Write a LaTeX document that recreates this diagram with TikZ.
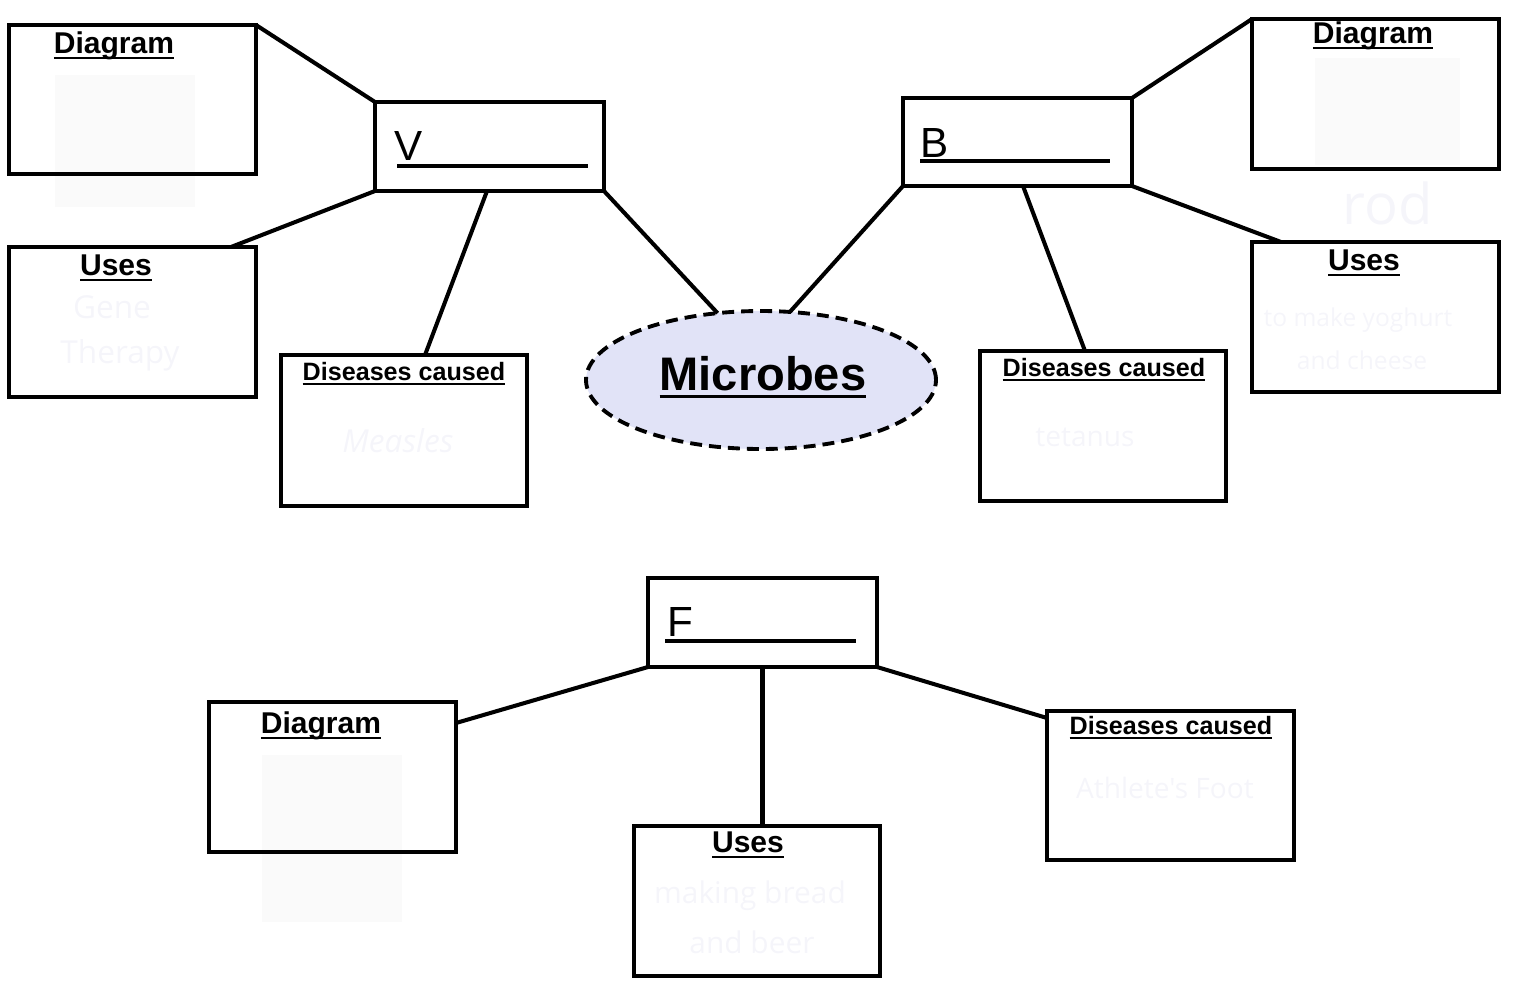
\documentclass[tikz,border=0pt]{standalone}
\usepackage{fontspec}
\setmainfont{Liberation Sans}
\newfontfamily\faintfont{Open Sans}
\usetikzlibrary{shapes.geometric,calc}
\newcommand\ulx[3]{% #1 gap below baseline, #2 thickness, #3 text
  \setbox0=\hbox{#3}%
  \rlap{\vrule width\wd0 height -#1 depth \dimexpr#1+#2\relax}\box0}
\definecolor{micfill}{RGB}{225,227,247}
\definecolor{faint}{RGB}{245,245,250}
\definecolor{imgbg}{RGB}{250,250,250}
\tikzset{
  box/.style={draw,line width=2.3pt,rectangle,inner sep=0pt,outer sep=0pt},
  bsz/.style 2 args={minimum width=#1*0.02cm,minimum height=#2*0.02cm},
  conn/.style={line width=2.3pt},
  head/.style={anchor=base,inner sep=0pt,font=\bfseries\fontsize{17.1}{19}\selectfont},
  dhead/.style={head,font=\bfseries\fontsize{14.3}{16}\selectfont},
  letter/.style={anchor=base west,inner sep=0pt,font=\fontsize{24}{28}\selectfont},
  blank/.style={line width=2.5pt},
  faintt/.style={text=faint,inner sep=0pt,font=\faintfont\fontsize{18}{21}\selectfont},
  imgsq/.style={fill=imgbg,draw=none},
}
\begin{document}
\begin{tikzpicture}[x=0.02cm,y=-0.02cm]
\useasboundingbox (0,0) rectangle (1515,1005);
% faint picture placeholders
\fill[imgsq] (55,75) rectangle (195,207);
\fill[imgsq] (1315,58) rectangle (1460,165);
\fill[imgsq] (262,755) rectangle (402,922);
% boxes
\node[box,bsz={247}{149}] (vd) at (132.5,99.5) {};
\node[box,bsz={229}{89}] (vm) at (489.5,146.5) {};
\node[box,bsz={247}{150}] (vu) at (132.5,322) {};
\node[box,bsz={246}{151}] (vdis) at (404,430.5) {};
\node[box,bsz={229}{88}] (bm) at (1017.5,142) {};
\node[box,bsz={247}{150}] (bd) at (1375.5,94) {};
\node[box,bsz={247}{150}] (bu) at (1375.5,317) {};
\node[box,bsz={246}{150}] (bdis) at (1103,426) {};
\node[box,bsz={229}{89}] (fm) at (762.5,622.5) {};
\node[box,bsz={247}{150}] (fd) at (332.5,777) {};
\node[box,bsz={246}{150}] (fu) at (757,901) {};
\node[box,bsz={247}{149}] (fdis) at (1170.5,785.5) {};
\node[ellipse,draw,fill=micfill,line width=2.2pt,dash pattern=on 6.8pt off 4pt,
      minimum width=350*0.02cm,minimum height=138*0.02cm,inner sep=0pt,outer sep=0pt] (mic) at (761,380) {};
% connectors
\draw[conn] (vd.north east) -- (vm.north west);
\draw[conn] (vm.south west) -- ($(vu.north west)+(222,0)$);
\draw[conn] ($(vm.south west)+(112,0)$) -- ($(vdis.north west)+(144,0)$);
\draw[conn] (vm.south east) -- (mic.123);
\draw[conn] (bm.south west) -- (mic.67);
\draw[conn] (bm.north east) -- (bd.north west);
\draw[conn] (bm.south east) -- ($(bu.north west)+(29,0)$);
\draw[conn] ($(bm.south west)+(120,0)$) -- ($(bdis.north west)+(105,0)$);
\draw[conn] ($(mic.south)+(-4,0)$) -- ($(mic.south)+(-4,0)$ |- fm.north);
\draw[conn] (fm.south west) -- ($(fd.north east)+(0,21)$);
\draw[conn] (fm.south) -- (fm.south |- fu.north);
\draw[conn] (fm.south east) -- ($(fdis.north west)+(0,7)$);
% main box letters and blanks
\node[letter] (vl) at (394,160) {V};
\draw[blank] (397,166) -- (588,166);
\node[letter] (bl) at (920,157) {B};
\draw[blank] (920,161) -- (1110,161);
\node[letter] (fl) at (667,636) {F};
\draw[blank] (665,641) -- (856,641);
% headings
\node[head] (vdh) at (114,53) {\ulx{2.3pt}{1.2pt}{Diagram}};
\node[head] (vuh) at (116,275) {\ulx{2.3pt}{1.2pt}{Uses}};
\node[dhead] (vdish) at (404,380) {\ulx{1.9pt}{1.1pt}{Diseases caused}};
\node[head] (bdh) at (1373,43) {\ulx{2.3pt}{1.2pt}{Diagram}};
\node[head] (buh) at (1364,270) {\ulx{2.3pt}{1.2pt}{Uses}};
\node[dhead] (bdish) at (1104,376) {\ulx{1.9pt}{1.1pt}{Diseases caused}};
\node[head] (fdh) at (321,733) {\ulx{2.3pt}{1.2pt}{Diagram}};
\node[head] (fuh) at (748,852) {\ulx{2.3pt}{1.2pt}{Uses}};
\node[dhead] (fdish) at (1171,734) {\ulx{1.9pt}{1.1pt}{Diseases caused}};
\node[anchor=base,inner sep=0pt,font=\bfseries\fontsize{26.8}{30}\selectfont] (mict) at (763,390)
  {\ulx{2.8pt}{1.8pt}{Microbes}};
% faint answers
\node[faintt] (t1) at (112,307) {Gene};
\node[faintt] (t2) at (120,355) {Therapy};
\node[faintt,font=\faintfont\itshape\fontsize{18}{21}\selectfont] (t3) at (398,441) {Measles};
\node[faintt,font=\faintfont\fontsize{32}{36}\selectfont] (t4) at (1388,203) {rod};
\node[faintt,font=\faintfont\fontsize{14}{17}\selectfont] (t5) at (1358,320) {to make yoghurt};
\node[faintt,font=\faintfont\fontsize{14}{17}\selectfont] (t6) at (1362,360) {and cheese};
\node[faintt,font=\faintfont\fontsize{16}{19}\selectfont] (t7) at (1085,437) {tetanus};
\node[faintt,font=\faintfont\fontsize{17}{20}\selectfont] (t8) at (750,896) {making bread};
\node[faintt,font=\faintfont\fontsize{17}{20}\selectfont] (t9) at (752,942) {and beer};
\node[faintt,font=\faintfont\fontsize{16}{19}\selectfont] (t10) at (1165,788) {Athlete's Foot};
\end{tikzpicture}
\end{document}
